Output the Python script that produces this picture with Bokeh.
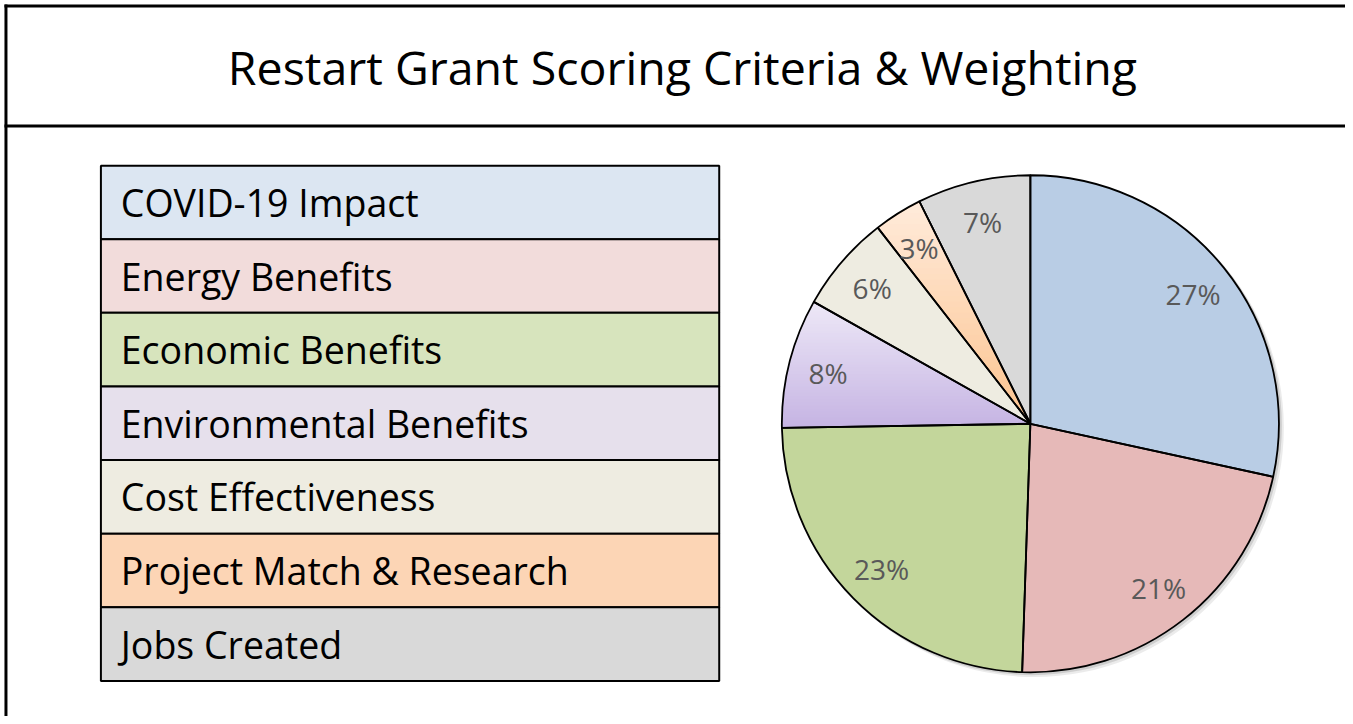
import math
import numpy as np
from bokeh.plotting import figure
from bokeh.models import Range1d, ColumnDataSource
from bokeh.core.properties import value
from bokeh.embed import file_html
from bokeh.resources import INLINE

# ---------------- data ----------------
title_text = "Restart Grant Scoring Criteria & Weighting"
categories = ["COVID-19 Impact", "Energy Benefits", "Economic Benefits",
              "Environmental Benefits", "Cost Effectiveness",
              "Project Match & Research", "Jobs Created"]
weights = [27, 21, 23, 8, 6, 3, 7]
pct_labels = [f"{w}%" for w in weights]
cell_colors = ["#DCE6F2", "#F2DCDB", "#D7E4BD", "#E6E0EC", "#EEECE1", "#FCD5B5", "#D9D9D9"]
slice_colors = ["#B9CDE5", "#E6B9B8", "#C3D69B", "#D8CCEC", "#EEECE1", "#FDD3AE", "#D9D9D9"]
gradients = {3: ("#EEE8F7", "#C5B4E3"), 5: ("#FFEBDB", "#FCC38E")}

# ---------------- layout (reference pixel units) ----------------
W, H = 1345, 716
def Y(img_y):
    return 724 - img_y

p = figure(width=W, height=H, output_backend="svg", toolbar_location=None,
           x_range=Range1d(0, 1353), y_range=Range1d(0, 724), min_border=0)
p.axis.visible = False
p.grid.visible = False
p.outline_line_color = None
p.background_fill_color = "white"
p.border_fill_color = "white"

# outer frame
p.line(x=[5.5, 5.5], y=[Y(4), Y(724)], line_color="black", line_width=3)
p.line(x=[4, 1353], y=[Y(5.5), Y(5.5)], line_color="black", line_width=3)
p.line(x=[4, 1353], y=[Y(127), Y(127)], line_color="black", line_width=3)

p.text(x=[686], y=[Y(67)], text=[title_text], text_align="center", text_baseline="middle",
       text_font=value("Open Sans"), text_font_size="46.5px", text_color="black")

# ---------------- table ----------------
t_left, t_right, t_top, t_bottom = 101, 723, 167, 688
n = len(categories)
rh = (t_bottom - t_top) / n
tops = [Y(t_top + i * rh) for i in range(n)]
bots = [Y(t_top + (i + 1) * rh) for i in range(n)]
tsrc = ColumnDataSource(dict(top=tops, bottom=bots, left=[t_left] * n, right=[t_right] * n,
                             color=cell_colors, label=categories,
                             ty=[(a + b) / 2 for a, b in zip(tops, bots)], tx=[121] * n))
p.quad(top="top", bottom="bottom", left="left", right="right", fill_color="color",
       line_color="black", line_width=2, source=tsrc)
p.text(x="tx", y="ty", text="label", source=tsrc, text_align="left", text_baseline="middle",
       text_font=value("Open Sans"), text_font_size="37.5px", text_color="black")

# ---------------- pie ----------------
cx, cy, R = 1036, Y(428), 250
total = sum(weights)
cum = np.concatenate([[0], np.cumsum(weights)])
starts = [math.pi / 2 - cum[i] / total * 2 * math.pi for i in range(n)]
ends = [math.pi / 2 - cum[i + 1] / total * 2 * math.pi for i in range(n)]

# soft shadow
for off, a in [(4, 0.08), (2, 0.12)]:
    p.circle(x=[cx + off], y=[cy - off], radius=R + 1,
             fill_color="black", fill_alpha=a, line_color=None)

wsrc = ColumnDataSource(dict(x=[cx] * n, y=[cy] * n, s=starts, e=ends, color=slice_colors))
p.wedge(x="x", y="y", radius=R, start_angle="s", end_angle="e",
        direction="clock", fill_color="color", line_color=None, source=wsrc)

def lerp_color(c1, c2, t):
    a = [int(c1[i:i + 2], 16) for i in (1, 3, 5)]
    b = [int(c2[i:i + 2], 16) for i in (1, 3, 5)]
    return "#%02x%02x%02x" % tuple(int(round(a[k] + (b[k] - a[k]) * t)) for k in range(3))

def clip_half(pts, a, above):
    out = []
    for i in range(len(pts)):
        cur, prev = pts[i], pts[i - 1]
        cin = cur[1] >= a if above else cur[1] <= a
        pin = prev[1] >= a if above else prev[1] <= a
        if cin:
            if not pin:
                t = (a - prev[1]) / (cur[1] - prev[1])
                out.append((prev[0] + t * (cur[0] - prev[0]), a))
            out.append(cur)
        elif pin:
            t = (a - prev[1]) / (cur[1] - prev[1])
            out.append((prev[0] + t * (cur[0] - prev[0]), a))
    return out

gx, gy, gc = [], [], []
for idx, (c_top, c_bot) in gradients.items():
    angs = np.linspace(starts[idx], ends[idx], 60)
    poly = [(cx, cy)] + [(cx + R * math.cos(t), cy + R * math.sin(t)) for t in angs]
    ys = [pt[1] for pt in poly]
    ymin, ymax = min(ys), max(ys)
    nb = 40
    for k in range(nb):
        y1 = ymax - k * (ymax - ymin) / nb
        y0 = ymax - (k + 1) * (ymax - ymin) / nb
        band = clip_half(poly, y0 - 0.6, True)
        band = clip_half(band, y1 + 0.6, False) if band else band
        if len(band) >= 3:
            gx.append([q[0] for q in band])
            gy.append([q[1] for q in band])
            gc.append(lerp_color(c_top, c_bot, (k + 0.5) / nb))
p.patches(xs=gx, ys=gy, fill_color=gc, line_color=None)

p.wedge(x="x", y="y", radius=R, start_angle="s", end_angle="e",
        direction="clock", fill_color=None, line_color="black", line_width=1.8, source=wsrc)

mids = [(s + e) / 2 for s, e in zip(starts, ends)]
r_lab = 210
lsrc = ColumnDataSource(dict(x=[cx + r_lab * math.cos(m) for m in mids],
                             y=[cy + r_lab * math.sin(m) for m in mids], t=pct_labels))
p.text(x="x", y="y", text="t", source=lsrc, text_align="center", text_baseline="middle",
       text_font=value("Open Sans"), text_font_size="28px", text_color="#595959")

open("out.html", "w").write(file_html(p, INLINE))
